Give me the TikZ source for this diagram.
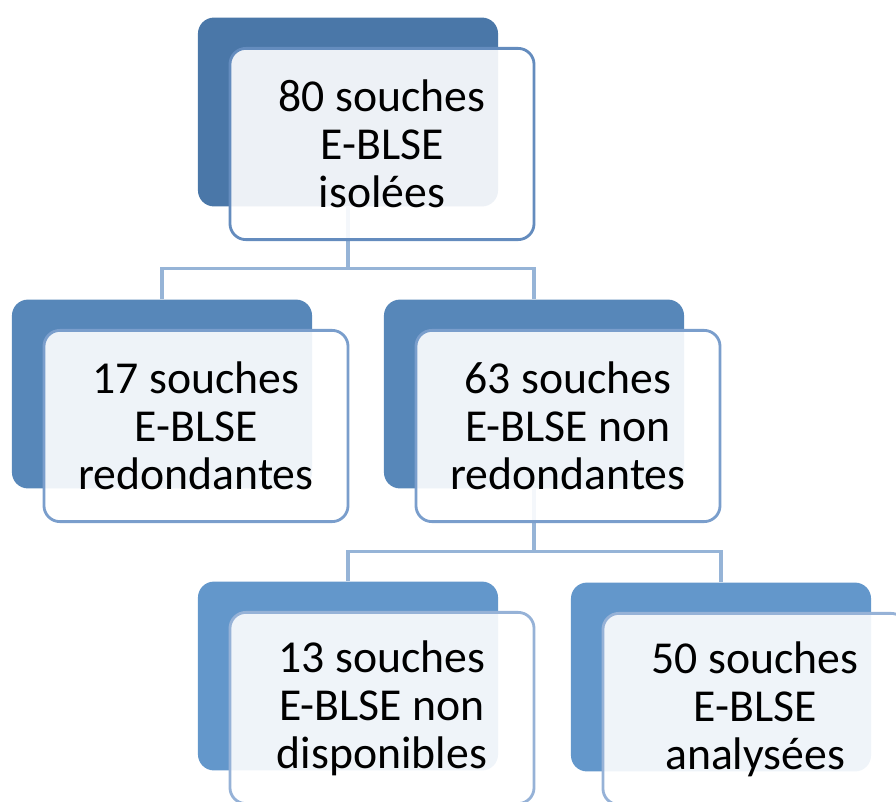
\documentclass[tikz,border=0pt]{standalone}
\usepackage{fontspec}
\setmainfont{Carlito}
\usetikzlibrary{positioning}
\definecolor{backone}{RGB}{74,119,168}
\definecolor{backtwo}{RGB}{87,135,185}
\definecolor{backthree}{RGB}{99,151,203}
\definecolor{edgeone}{RGB}{100,140,190}
\definecolor{edgetwo}{RGB}{122,158,204}
\definecolor{edgethree}{RGB}{150,178,215}
\definecolor{linkcol}{RGB}{150,180,215}
\tikzstyle{backbox}=[rounded corners=0.4cm, minimum width=7.5cm, minimum height=4.72cm, inner sep=0pt]
\tikzstyle{frontbox}=[rounded corners=0.4cm, minimum width=7.6cm, minimum height=4.78cm, inner sep=0pt,
    fill=white, fill opacity=0.9, text opacity=1, line width=2pt, align=center,
    font=\fontsize{32.5}{34.2}\selectfont]
\tikzstyle{link}=[linkcol, line width=2.2pt]

\begin{document}
\begin{tikzpicture}[x=0.025cm, y=-0.025cm]
    \useasboundingbox (0,0) rectangle (896,802);
    \clip (0,0) rectangle (896,802);
    % back boxes
    \node [backbox, fill=backone] (b1) at (348,112) {};
    \node [backbox, fill=backtwo] (b2a) at (162,394) {};
    \node [backbox, fill=backtwo] (b2b) at (534,394) {};
    \node [backbox, fill=backthree] (b3a) at (348,676) {};
    \node [backbox, fill=backthree] (b3b) at (721,677) {};
    % connectors
    \draw [link] (b1.south) -- ++(0,62) -| (b2a.north);
    \draw [link] (b1.south) -- ++(0,62) -| (b2b.north);
    \draw [link] (b2b.south) -- ++(0,63) -| (b3a.north);
    \draw [link] (b2b.south) -- ++(0,63) -| (b3b.north);
    % front boxes
    \node [frontbox, draw=edgeone] (f1) at ([shift={(34,32)}]b1) {80 souches\\E-BLSE\\isolées};
    \node [frontbox, draw=edgetwo] (f2a) at ([shift={(34,32)}]b2a) {17 souches\\E-BLSE\\redondantes};
    \node [frontbox, draw=edgetwo] (f2b) at ([shift={(34,32)}]b2b) {63 souches\\E-BLSE non\\redondantes};
    \node [frontbox, draw=edgethree] (f3a) at ([shift={(34,32)}]b3a) {13 souches\\E-BLSE non\\disponibles};
    \node [frontbox, draw=edgethree] (f3b) at ([shift={(34,32)}]b3b) {50 souches\\E-BLSE\\analysées};
\end{tikzpicture}
\end{document}
